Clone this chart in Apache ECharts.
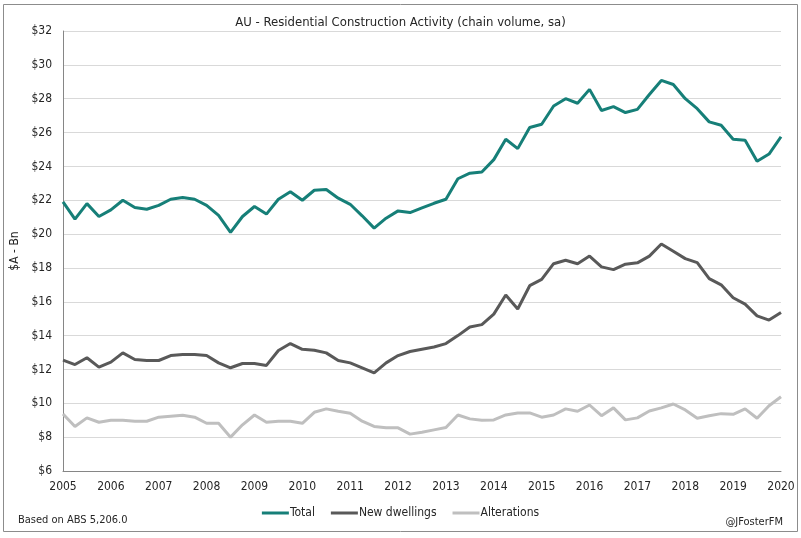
<!DOCTYPE html>
<html>
<head>
<meta charset="utf-8">
<script src="https://cdn.jsdelivr.net/npm/echarts@6/dist/echarts.min.js"></script>
<style>
html,body{margin:0;padding:0;background:#fff;}
#c{width:801px;height:538px;}
</style>
</head>
<body>
<div id="c"></div>
<script>
const startYear = 2005;
const quartersPerYear = 4;
const yearTicks = [2005,2006,2007,2008,2009,2010,2011,2012,2013,2014,2015,2016,2017,2018,2019,2020];
const total = [21.9,20.88,21.8,21.04,21.43,22.0,21.57,21.47,21.7,22.06,22.16,22.06,21.7,21.1,20.1,21.04,21.63,21.18,22.06,22.5,
  22.0,22.59,22.63,22.12,21.76,21.08,20.35,20.94,21.37,21.27,21.55,21.82,22.06,23.27,23.6,23.67,24.4,25.6,25.05,26.3,
  26.49,27.57,28.0,27.73,28.55,27.3,27.53,27.18,27.37,28.25,29.08,28.84,28.0,27.41,26.63,26.43,25.6,25.55,24.3,24.73,25.75];
const newDwellings = [12.55,12.29,12.69,12.14,12.43,12.98,12.59,12.53,12.53,12.82,12.88,12.88,12.82,12.39,12.1,12.35,12.35,12.24,13.12,13.53,
  13.19,13.14,12.98,12.53,12.39,12.1,11.8,12.39,12.82,13.06,13.2,13.33,13.53,14.0,14.51,14.65,15.27,16.4,15.57,16.95,
  17.32,18.25,18.45,18.25,18.7,18.06,17.9,18.22,18.3,18.7,19.41,18.98,18.55,18.31,17.37,17.0,16.24,15.86,15.17,14.92,15.37];
const alterations = [9.37,8.63,9.14,8.88,9.0,9.0,8.94,8.94,9.18,9.24,9.3,9.18,8.82,8.82,8.0,8.73,9.31,8.88,8.94,8.94,
  8.82,9.47,9.67,9.53,9.41,8.94,8.63,8.55,8.55,8.18,8.29,8.43,8.57,9.31,9.08,9.0,9.02,9.31,9.43,9.43,
  9.18,9.31,9.67,9.53,9.9,9.27,9.73,9.02,9.14,9.55,9.73,9.96,9.61,9.12,9.27,9.39,9.35,9.67,9.12,9.86,10.39];

function toPairs(arr){ return arr.map((v,i)=>[startYear + i/quartersPerYear, v]); }

const FONT = "'Liberation Sans Narrow','DejaVu Sans Condensed','Roboto',sans-serif";
const chart = echarts.init(document.getElementById('c'), null, {renderer:'canvas'});
chart.setOption({
  backgroundColor:'#fff',
  animation:false,
  textStyle:{fontFamily:FONT},
  title:{text:'AU - Residential Construction Activity (chain volume, sa)', left:'center', top:11,
    textStyle:{fontFamily:FONT, fontSize:13, fontWeight:'normal', color:'#262626'}},
  grid:{left:63, right:20, top:31, bottom:67},
  xAxis:{type:'value', min:2005, max:2020, interval:1,
    axisLine:{show:true, lineStyle:{color:'#868686', width:1}},
    axisTick:{show:false},
    splitLine:{show:false},
    axisLabel:{color:'#262626', fontSize:12, fontFamily:FONT, margin:10,
      formatter:v=> yearTicks.includes(v) ? String(v) : ''}},
  yAxis:{type:'value', min:6, max:32, interval:2,
    name:'$A - Bn', nameLocation:'middle', nameGap:40, nameRotate:90,
    nameTextStyle:{color:'#262626', fontSize:12, fontFamily:FONT},
    axisLine:{show:true, lineStyle:{color:'#868686', width:1}},
    axisTick:{show:false},
    splitLine:{show:true, lineStyle:{color:'#d9d9d9', width:1}},
    axisLabel:{color:'#262626', fontSize:12, fontFamily:FONT, margin:11, formatter:v=>'$'+v}},
  legend:{bottom:14, left:'center', icon:'rect', itemWidth:27, itemHeight:3, itemGap:16,
    textStyle:{color:'#262626', fontSize:12, fontFamily:FONT, padding:[0,0,0,-4]},
    data:['Total','New dwellings','Alterations']},
  series:[
    {name:'Total', type:'line', data:toPairs(total), showSymbol:false, lineStyle:{color:'#167f78', width:3}, itemStyle:{color:'#167f78'}},
    {name:'New dwellings', type:'line', data:toPairs(newDwellings), showSymbol:false, lineStyle:{color:'#595959', width:3}, itemStyle:{color:'#595959'}},
    {name:'Alterations', type:'line', data:toPairs(alterations), showSymbol:false, lineStyle:{color:'#bfbfbf', width:3}, itemStyle:{color:'#bfbfbf'}}
  ],
  graphic:[
    {type:'rect', shape:{x:3.5, y:4.5, width:794, height:527}, style:{fill:null, stroke:'#8c8c8c', lineWidth:1}, silent:true},
    {type:'text', left:18, top:515, style:{text:'Based on ABS 5,206.0', fill:'#262626', font:'11px '+FONT}},
    {type:'text', right:18, top:517, style:{text:'@JFosterFM', fill:'#262626', font:'11px '+FONT}}
  ]
});
</script>
</body>
</html>
